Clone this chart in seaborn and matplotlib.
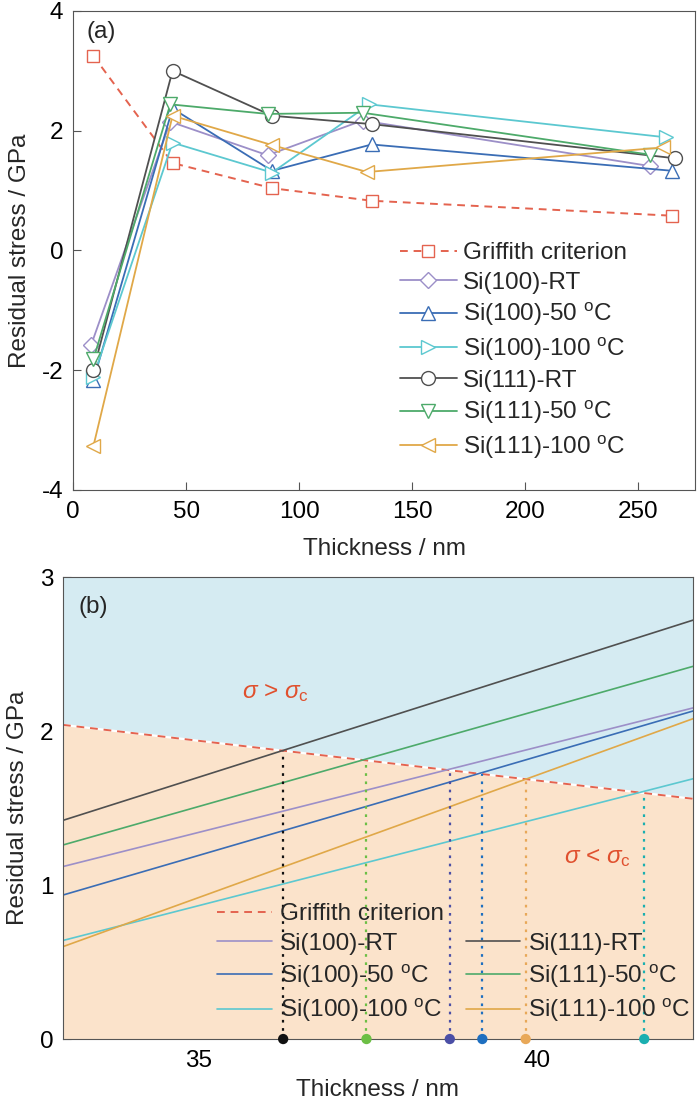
import numpy as np
import pandas as pd
import matplotlib
matplotlib.use('Agg')
import matplotlib.pyplot as plt
from matplotlib.lines import Line2D
import seaborn as sns

# ---- panel (a): residual stress vs thickness
griffith_t = [9, 44, 88, 132, 265]
griffith_s = [3.25, 1.46, 1.04, 0.83, 0.58]

si100_rt_t = [8, 43, 86, 128, 255]
si100_rt_s = [-1.58, 2.15, 1.59, 2.17, 1.41]
si100_50_t = [9, 44, 88, 132, 265]
si100_50_s = [-2.17, 2.37, 1.33, 1.77, 1.33]
si100_100_t = [9, 44, 88, 131, 262]
si100_100_s = [-2.11, 1.80, 1.30, 2.44, 1.89]
si111_rt_t = [9, 44, 88, 132, 266]
si111_rt_s = [-2.00, 3.00, 2.25, 2.11, 1.54]
si111_50_t = [9, 43, 86, 128, 255]
si111_50_s = [-1.82, 2.44, 2.28, 2.30, 1.60]
si111_100_t = [9, 44, 88, 130, 261]
si111_100_s = [-3.27, 2.25, 1.76, 1.31, 1.72]

# ---- panel (b): zoom on the crossing region, line ends at 33 and 42.3 nm
zoom_t = [33, 42.3]
griffith_b = [2.04, 1.56]
si100_rt_b = [1.12, 2.15]
si100_50_b = [0.935, 2.13]
si100_100_b = [0.64, 1.69]
si111_rt_b = [1.42, 2.72]
si111_50_b = [1.26, 2.42]
si111_100_b = [0.60, 2.08]

# crossing points with the Griffith line
cross_names = ['Si(111)-RT', 'Si(111)-50', 'Si(100)-RT', 'Si(100)-50', 'Si(111)-100', 'Si(100)-100']
cross_t = [36.25, 37.48, 38.71, 39.19, 39.83, 41.58]
cross_s = [1.87, 1.81, 1.74, 1.72, 1.69, 1.60]

deg = r'$^{\mathrm{o}}$C'
labels = ['Si(100)-RT', 'Si(100)-50 ' + deg, 'Si(100)-100 ' + deg,
          'Si(111)-RT', 'Si(111)-50 ' + deg, 'Si(111)-100 ' + deg]
colors = ['#9C8FC8', '#3A6DB5', '#5CC8D0', '#505050', '#4DAA6A', '#E0A848']
markers = ['D', '^', '>', 'o', 'v', '<']
msizes = [8, 10, 10, 10, 10, 10]
red = '#E4634F'
FS = 17.5

sns.set_style('ticks')
plt.rcParams['font.family'] = ['Liberation Sans', 'DejaVu Sans']
plt.rcParams['mathtext.fontset'] = 'custom'
plt.rcParams['mathtext.rm'] = 'Liberation Sans'
plt.rcParams['mathtext.it'] = 'Liberation Sans:italic'
plt.rcParams['axes.unicode_minus'] = False
plt.rcParams['font.size'] = FS
plt.rcParams['axes.edgecolor'] = '#555555'
plt.rcParams['xtick.direction'] = 'in'
plt.rcParams['ytick.direction'] = 'in'
plt.rcParams['xtick.major.size'] = 6
plt.rcParams['ytick.major.size'] = 6
plt.rcParams['xtick.major.pad'] = 8
plt.rcParams['ytick.major.pad'] = 7
plt.rcParams['xtick.color'] = '#555555'
plt.rcParams['ytick.color'] = '#555555'
plt.rcParams['xtick.labelcolor'] = 'black'
plt.rcParams['ytick.labelcolor'] = 'black'
plt.rcParams['xtick.labelsize'] = FS
plt.rcParams['ytick.labelsize'] = FS

fig = plt.figure(figsize=(7, 11.05), dpi=100)
ax1 = fig.add_axes([0.1043, 0.5566, 0.8886, 0.4335])
ax2 = fig.add_axes([0.09, 0.0597, 0.90, 0.4181])

# ---------- (a)
sns.lineplot(x=griffith_t, y=griffith_s, ax=ax1, color=red, lw=1.4, linestyle=(0, (4, 3)),
             marker='s', markersize=9, markerfacecolor='white', markeredgecolor=red,
             markeredgewidth=1, label='Griffith criterion')
series_t = [si100_rt_t, si100_50_t, si100_100_t, si111_rt_t, si111_50_t, si111_100_t]
series_s = [si100_rt_s, si100_50_s, si100_100_s, si111_rt_s, si111_50_s, si111_100_s]
for t, s, lab, c, m, ms in zip(series_t, series_s, labels, colors, markers, msizes):
    sns.lineplot(x=t, y=s, ax=ax1, color=c, lw=1.3, marker=m, markersize=ms,
                 markerfacecolor='white', markeredgecolor=c, markeredgewidth=1,
                 label=lab, sort=False)

ax1.set_xlim(0, 275)
ax1.set_ylim(-4, 4)
ax1.set_xticks([0, 50, 100, 150, 200, 250])
ax1.set_yticks([-4, -2, 0, 2, 4])
ax1.set_xlabel('Thickness / nm', fontsize=FS, labelpad=11)
ax1.set_ylabel('Residual stress / GPa', fontsize=FS, labelpad=8)
ax1.text(0.022, 0.955, '(a)', transform=ax1.transAxes, fontsize=FS, va='center')
ax1.legend(loc='upper left', bbox_to_anchor=(0.525, 0.517), frameon=False,
           borderpad=0, borderaxespad=0, handlelength=2.35, handletextpad=0.25,
           labelspacing=0.3, fontsize=FS)

# ---------- (b)
ax2.fill_between(zoom_t, griffith_b, 3, color='#D5EBF2', lw=0)
ax2.fill_between(zoom_t, 0, griffith_b, color='#FBE3CB', lw=0)
ax2.plot(zoom_t, griffith_b, color='white', lw=1.6)
sns.lineplot(x=zoom_t, y=griffith_b, ax=ax2, color=red, lw=1.4, linestyle=(0, (4, 3)),
             label='Griffith criterion')
series_b = [si100_rt_b, si100_50_b, si100_100_b, si111_rt_b, si111_50_b, si111_100_b]
for s, lab, c in zip(series_b, labels, colors):
    sns.lineplot(x=zoom_t, y=s, ax=ax2, color=c, lw=1.2, label=lab)

dot_colors = ['#111111', '#6CBF45', '#4B4FA6', '#1E6FC0', '#E8A858', '#1AAFB0']
ax2.vlines(cross_t, 0, cross_s, colors=dot_colors, linestyles=(0, (1.2, 2.5)), lw=1.6)
sns.scatterplot(x=cross_t, y=[0] * len(cross_t), hue=cross_names, palette=dict(zip(cross_names, dot_colors)),
                s=55, edgecolor='none', legend=False, ax=ax2, clip_on=False, zorder=5)

ax2.text(35.64, 2.25, r'$\sigma$ > $\sigma_{\mathrm{c}}$', color='#E0502E', fontsize=FS, va='center')
ax2.text(40.39, 1.18, r'$\sigma$ < $\sigma_{\mathrm{c}}$', color='#E0502E', fontsize=FS, va='center')
ax2.text(0.025, 0.935, '(b)', transform=ax2.transAxes, fontsize=FS, va='center')

ax2.set_xlim(33, 42.3)
ax2.set_ylim(0, 3)
ax2.set_xticks([35, 40])
ax2.set_yticks([0, 1, 2, 3])
ax2.set_xlabel('Thickness / nm', fontsize=FS, labelpad=5)
ax2.set_ylabel('Residual stress / GPa', fontsize=FS, labelpad=8)

h, l = ax2.get_legend_handles_labels()
blank = Line2D([], [], color='none')
handles = h[:4] + [blank] + h[4:]
labs = l[:4] + [''] + l[4:]
ax2.legend(handles, labs, ncol=2, loc='upper left', bbox_to_anchor=(0.244, 0.294),
           frameon=False, borderpad=0, borderaxespad=0, handlelength=2.26,
           handletextpad=0.33, labelspacing=0.31, columnspacing=0.9, fontsize=FS)

fig.savefig('out.png', dpi=100)
